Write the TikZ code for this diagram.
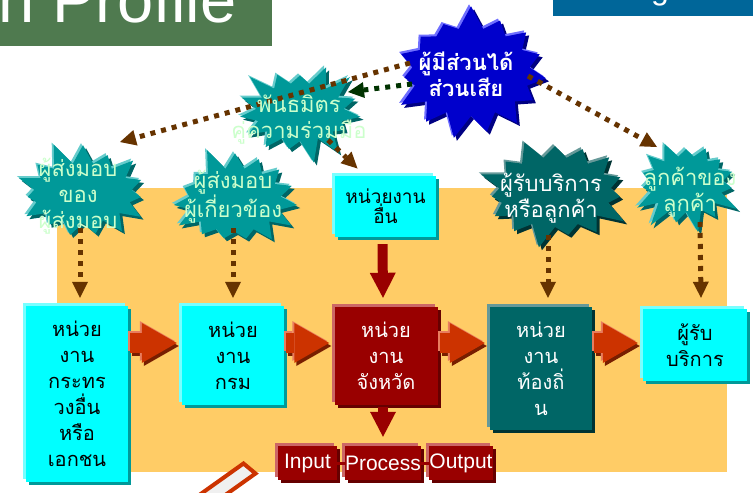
\documentclass[tikz,border=0pt]{standalone}
\usepackage{fontspec}
\setmainfont{Liberation Sans}
\newfontfamily\thaifont[Script=Thai]{Loma}
\usepackage{xcolor}
\usetikzlibrary{shapes.symbols,shadows,arrows.meta}

\definecolor{titlegreen}{RGB}{79,122,79}
\definecolor{topblue}{RGB}{0,102,153}
\definecolor{backorange}{RGB}{255,204,102}
\definecolor{boxcyan}{RGB}{0,255,255}
\definecolor{cyanlight}{RGB}{120,255,255}
\definecolor{cyandark}{RGB}{0,153,153}
\definecolor{boxred}{RGB}{153,0,0}
\definecolor{redlight}{RGB}{204,102,102}
\definecolor{reddark}{RGB}{102,0,0}
\definecolor{boxteal}{RGB}{0,102,102}
\definecolor{teallight}{RGB}{102,153,153}
\definecolor{tealdark}{RGB}{0,51,51}
\definecolor{burstteal}{RGB}{0,153,153}
\definecolor{burstlight}{RGB}{102,204,204}
\definecolor{burstblue}{RGB}{0,0,204}
\definecolor{bluelight}{RGB}{110,110,255}
\definecolor{bluedark}{RGB}{0,0,130}
\definecolor{flowred}{RGB}{204,51,0}
\definecolor{flowlight}{RGB}{232,125,95}
\definecolor{flowdark}{RGB}{120,30,0}
\definecolor{dotbrown}{RGB}{102,51,0}
\definecolor{dotgreen}{RGB}{0,51,0}
\definecolor{textgreen}{RGB}{204,255,204}
\definecolor{pencilgray}{RGB}{240,240,240}

\begin{document}
\begin{tikzpicture}[x=1pt, y=-1pt,
  thai/.style={font=\thaifont\fontsize{20}{26}\selectfont, align=center, inner sep=0pt},
  bursttext/.style={font=\thaifont\fontsize{22}{26}\selectfont, align=center, inner sep=0pt},
  box/.style n args={3}{rectangle, fill=#1, thai,
    general shadow={fill=#3, shadow xshift=3pt, shadow yshift=-3pt},
    general shadow={fill=#2, shadow xshift=-3pt, shadow yshift=3pt}},
  burst/.style n args={3}{starburst, starburst points=15, starburst point height=24pt,
    inner sep=0pt, fill=#1,
    general shadow={fill=#3, shadow xshift=3pt, shadow yshift=-3pt},
    general shadow={fill=#2, shadow xshift=-2pt, shadow yshift=2pt}},
  dotline/.style={draw=dotbrown, line width=5pt, dash pattern=on 5pt off 6pt,
    -{Triangle[length=16pt,width=16pt,line width=0pt]}},
  flowarrow/.style={line width=20pt, shorten <=2pt, shorten >=5pt,
    -{Triangle[length=35pt,width=40pt,line width=0pt]}},
  downarrow/.style={draw=boxred, line width=10pt,
    -{Triangle[length=25pt,width=26pt,line width=0pt]}},
  iobox/.style={box={boxred}{redlight}{reddark}, text=white,
    font=\fontsize{21}{21}\selectfont, minimum height=34pt}]
\useasboundingbox (0,0) rectangle (753,493);
\clip (0,0) rectangle (753,493);

% header bars
\fill[titlegreen] (0,0) rectangle (272,45.5);
\node[anchor=base west, text=white, inner sep=0pt,
  font=\fontsize{65}{65}\selectfont] (title) at (-2,22) {n Profile};
\fill[topblue] (553,0) rectangle (753,15.5);
\node[anchor=base, text=white, inner sep=0pt,
  font=\fontsize{32}{32}\selectfont] (tag) at (660,-0.5) {g};

% background
\fill[backorange] (57,188) rectangle (727,472);

% stakeholders
\node[burst={burstblue}{bluelight}{bluedark}, minimum width=166pt,
  minimum height=136pt, random starburst=7] (stake) at (471,72) {};
\node[burst={burstteal}{burstlight}{boxteal}, minimum width=136pt,
  minimum height=106pt, random starburst=3] (ally) at (300,112) {};
\node[burst={burstteal}{burstlight}{boxteal}, minimum width=146pt,
  minimum height=108pt, random starburst=11] (supsup) at (83,193) {};
\node[burst={burstteal}{burstlight}{boxteal}, minimum width=140pt,
  minimum height=112pt, random starburst=5] (supplier) at (235,200) {};
\node[burst={boxteal}{teallight}{tealdark}, minimum width=160pt,
  minimum height=118pt, random starburst=9] (customer) at (555,192) {};
\node[burst={burstteal}{burstlight}{boxteal}, minimum width=122pt,
  minimum height=104pt, random starburst=13] (custcust) at (686,184) {};

% agencies
\node[box={boxcyan}{cyanlight}{cyandark}, minimum width=101pt,
  minimum height=61pt, font=\thaifont\fontsize{19}{20}\selectfont] (other) at (385.5,206.5) {หน่วยงาน\\อื่น};
\node[box={boxcyan}{cyanlight}{cyandark}, minimum width=102pt,
  minimum height=176pt] (b1) at (77,394) {หน่วย\\งาน\\กระทร\\วงอื่น\\หรือ\\เอกชน};
\node[box={boxcyan}{cyanlight}{cyandark}, minimum width=102pt,
  minimum height=99pt] (b2) at (233,355.5) {หน่วย\\งาน\\กรม};
\node[box={boxred}{redlight}{reddark}, text=white, minimum width=103pt,
  minimum height=98pt] (b3) at (386,356) {หน่วย\\งาน\\จังหวัด};
\node[box={boxteal}{teallight}{tealdark}, text=white, minimum width=102pt,
  minimum height=123pt] (b4) at (541,368.5) {หน่วย\\งาน\\ท้องถิ่\\น};
\node[box={boxcyan}{cyanlight}{cyandark}, minimum width=104pt,
  minimum height=72pt] (b5) at (695,345) {ผู้รับ\\บริการ};

% dotted links
\draw[dotline] ([shift={(-61,-9)}]stake.center) -- ([shift={(37,-51)}]supsup.center);
\draw[dotline, draw=dotgreen] ([shift={(-59,12)}]stake.center) -- ([shift={(48,-20)}]ally.center);
\draw[dotline] ([shift={(57,4)}]stake.center) -- ([shift={(-29,-37)}]custcust.center);
\draw[dotline] ([shift={(28,28)}]ally.center) -- ([shift={(-28,-38)}]other.center);
\draw[dotline] ([shift={(-3,35)}]supsup.center) -- ([shift={(3,-8)}]b1.north);
\draw[dotline] ([shift={(-2,28)}]supplier.center) -- ([shift={(0,-8)}]b2.north);
\draw[dotline] ([shift={(-7,43)}]customer.center) -- ([shift={(7,-9)}]b4.north);
\draw[dotline] ([shift={(14,38)}]custcust.center) -- ([shift={(6,-11)}]b5.north);

% stakeholder names
\node[bursttext, text=white, font=\thaifont\bfseries\fontsize{22}{26}\selectfont] (stake-t) at (466,74) {ผู้มีส่วนได้\\ส่วนเสีย};
\node[bursttext, text=textgreen] (ally-t) at (299,120) {พันธมิตร\\คู่ความร่วมมือ};
\node[bursttext, text=textgreen] (supsup-t) at (78,196) {ผู้ส่งมอบ\\ของ\\ผู้ส่งมอบ};
\node[bursttext, text=textgreen] (supplier-t) at (233,197) {ผู้ส่งมอบ\\ผู้เกี่ยวข้อง};
\node[bursttext, text=white] (customer-t) at (551,198) {ผู้รับบริการ\\หรือลูกค้า};
\node[bursttext, text=textgreen] (custcust-t) at (690,192) {ลูกค้าของ\\ลูกค้า};

% flow between agencies
\coordinate (flowrow) at (0,343);
\draw[flowarrow, draw=flowdark] ([shift={(2,3)}]b1.east |- flowrow) -- ([shift={(2,3)}]b2.west |- flowrow);
\draw[flowarrow, draw=flowlight] ([shift={(-2,-2)}]b1.east |- flowrow) -- ([shift={(-2,-2)}]b2.west |- flowrow);
\draw[flowarrow, draw=flowred] (b1.east |- flowrow) -- (b2.west |- flowrow);
\draw[flowarrow, draw=flowdark] ([shift={(2,3)}]b2.east |- flowrow) -- ([shift={(2,3)}]b3.west |- flowrow);
\draw[flowarrow, draw=flowlight] ([shift={(-2,-2)}]b2.east |- flowrow) -- ([shift={(-2,-2)}]b3.west |- flowrow);
\draw[flowarrow, draw=flowred] (b2.east |- flowrow) -- (b3.west |- flowrow);
\draw[flowarrow, draw=flowdark] ([shift={(2,3)}]b3.east |- flowrow) -- ([shift={(2,3)}]b4.west |- flowrow);
\draw[flowarrow, draw=flowlight] ([shift={(-2,-2)}]b3.east |- flowrow) -- ([shift={(-2,-2)}]b4.west |- flowrow);
\draw[flowarrow, draw=flowred] (b3.east |- flowrow) -- (b4.west |- flowrow);
\draw[flowarrow, draw=flowdark] ([shift={(2,3)}]b4.east |- flowrow) -- ([shift={(2,3)}]b5.west |- flowrow);
\draw[flowarrow, draw=flowlight] ([shift={(-2,-2)}]b4.east |- flowrow) -- ([shift={(-2,-2)}]b5.west |- flowrow);
\draw[flowarrow, draw=flowred] (b4.east |- flowrow) -- (b5.west |- flowrow);

% input - process - output
\node[iobox, minimum width=59pt] (in) at (307.5,463) {Input};
\node[iobox, minimum width=74pt] (proc) at (383,463) {Process};
\node[iobox, minimum width=62pt] (out) at (461,463) {Output};
\draw[boxred, line width=3pt] (in.east) -- (proc.west);
\draw[boxred, line width=3pt] (proc.east) -- (out.west);

\draw[downarrow] ([xshift=-3pt]other.south) ++(0,7) -- ([shift={(-3,-9)}]b3.north);
\draw[downarrow] ([shift={(-3,2)}]b3.south) -- ([shift={(0,-9)}]proc.north);

% pen at the bottom
\draw[flowred, line width=4pt, fill=pencilgray] (243.5,463.5) -- (255.5,473.5) -- (175.5,530.5) -- (163.5,520.5) -- cycle;
\end{tikzpicture}
\end{document}
